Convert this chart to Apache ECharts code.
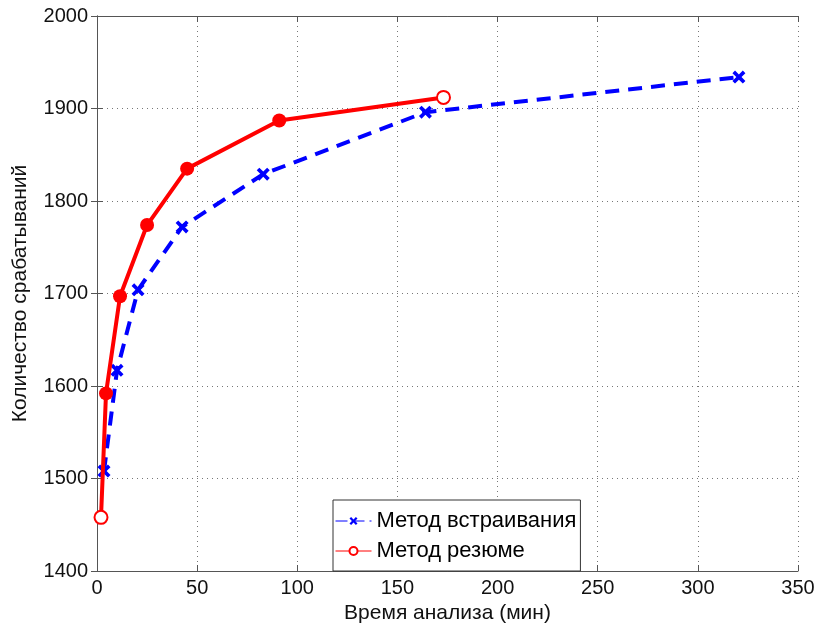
<!DOCTYPE html>
<html>
<head>
<meta charset="utf-8">
<script src="https://cdn.jsdelivr.net/npm/echarts@6/dist/echarts.min.js"></script>
<style>
  html, body { margin: 0; padding: 0; background: #fff; }
  #chart { width: 818px; height: 630px; }
</style>
</head>
<body>
<div id="chart"></div>
<script>
// данные
const embedTime = [3.5, 10, 20.5, 42.5, 83, 164, 320.5];
const embedCount = [1508, 1617, 1704, 1772, 1829, 1896, 1934];
const resumeTime = [2, 4.5, 11.5, 25, 45, 91, 173];
const resumeCount = [1458, 1592, 1697, 1774, 1835, 1887, 1912];

const xTicks = [0, 50, 100, 150, 200, 250, 300, 350];
const yTicks = [1400, 1500, 1600, 1700, 1800, 1900, 2000];

const FONT = 'Liberation Sans';
const crossPath = 'path://M2,0L5,3L8,0L10,2L7,5L10,8L8,10L5,7L2,10L0,8L3,5L0,2Z';

const chart = echarts.init(document.getElementById('chart'));

const gridLine = { show: true, lineStyle: { color: '#777', type: [1, 4], width: 1 } };
const axisLine = { show: true, lineStyle: { color: '#555', width: 1 } };
const ticks = { show: true, inside: true, length: 6, lineStyle: { color: '#555' } };

function pairs(xs, ys) {
  return xs.map((x, i) => [x, ys[i]]);
}

// крайние точки красной линии — пустые кружки, остальные залиты
const resumeData = pairs(resumeTime, resumeCount).map((p, i, a) => {
  const end = i === 0 || i === a.length - 1;
  return end ? { value: p } : { value: p, symbol: 'circle', symbolSize: 14 };
});

const option = {
  animation: false,
  textStyle: { fontFamily: FONT },
  grid: { left: 97, right: 20, top: 16, bottom: 59 },
  xAxis: [{
    type: 'value', min: 0, max: 350, interval: 50,
    name: 'Время анализа (мин)', nameLocation: 'middle', nameGap: 30,
    nameTextStyle: { fontSize: 21, color: '#111', fontFamily: FONT },
    axisLabel: { fontSize: 20, color: '#111', margin: 7,
      formatter: v => xTicks.includes(v) ? String(v) : '' },
    axisLine, axisTick: ticks, splitLine: gridLine
  }, {
    type: 'value', min: 0, max: 350, interval: 50, position: 'top',
    axisLabel: { show: false }, axisLine, axisTick: ticks, splitLine: { show: false }
  }],
  yAxis: [{
    type: 'value', min: 1400, max: 2000, interval: 100,
    name: 'Количество срабатываний', nameLocation: 'middle', nameGap: 66,
    nameTextStyle: { fontSize: 21, color: '#111', fontFamily: FONT },
    axisLabel: { fontSize: 20, color: '#111', margin: 9,
      formatter: v => yTicks.includes(v) ? String(v) : '' },
    axisLine, axisTick: ticks, splitLine: gridLine
  }, {
    type: 'value', min: 1400, max: 2000, interval: 100, position: 'right',
    axisLabel: { show: false }, axisLine, axisTick: ticks, splitLine: { show: false }
  }],
  legend: {
    orient: 'vertical', left: 333, top: 500,
    backgroundColor: '#fff', borderColor: '#333', borderWidth: 1,
    padding: [10, 4, 9, 2], itemGap: 8, itemWidth: 36, itemHeight: 10,
    textStyle: { fontSize: 22, color: '#000', fontFamily: FONT },
    data: [
      { name: 'Метод встраивания',
        itemStyle: { color: '#0000ff', borderWidth: 0 },
        lineStyle: { width: 1, type: [12, 5] } },
      { name: 'Метод резюме',
        itemStyle: { color: '#ff0000', borderWidth: 1 },
        lineStyle: { width: 1, type: 'solid' } }
    ]
  },
  series: [{
    name: 'Метод встраивания', type: 'line',
    data: pairs(embedTime, embedCount),
    symbol: crossPath, symbolSize: 13,
    itemStyle: { color: '#0000ff' },
    lineStyle: { color: '#0000ff', width: 4, type: [14, 9] },
    z: 2
  }, {
    name: 'Метод резюме', type: 'line',
    data: resumeData,
    symbol: 'emptyCircle', symbolSize: 13,
    itemStyle: { color: '#ff0000', borderWidth: 3 },
    lineStyle: { color: '#ff0000', width: 4 },
    z: 3
  }]
};

chart.setOption(option);
</script>
</body>
</html>
